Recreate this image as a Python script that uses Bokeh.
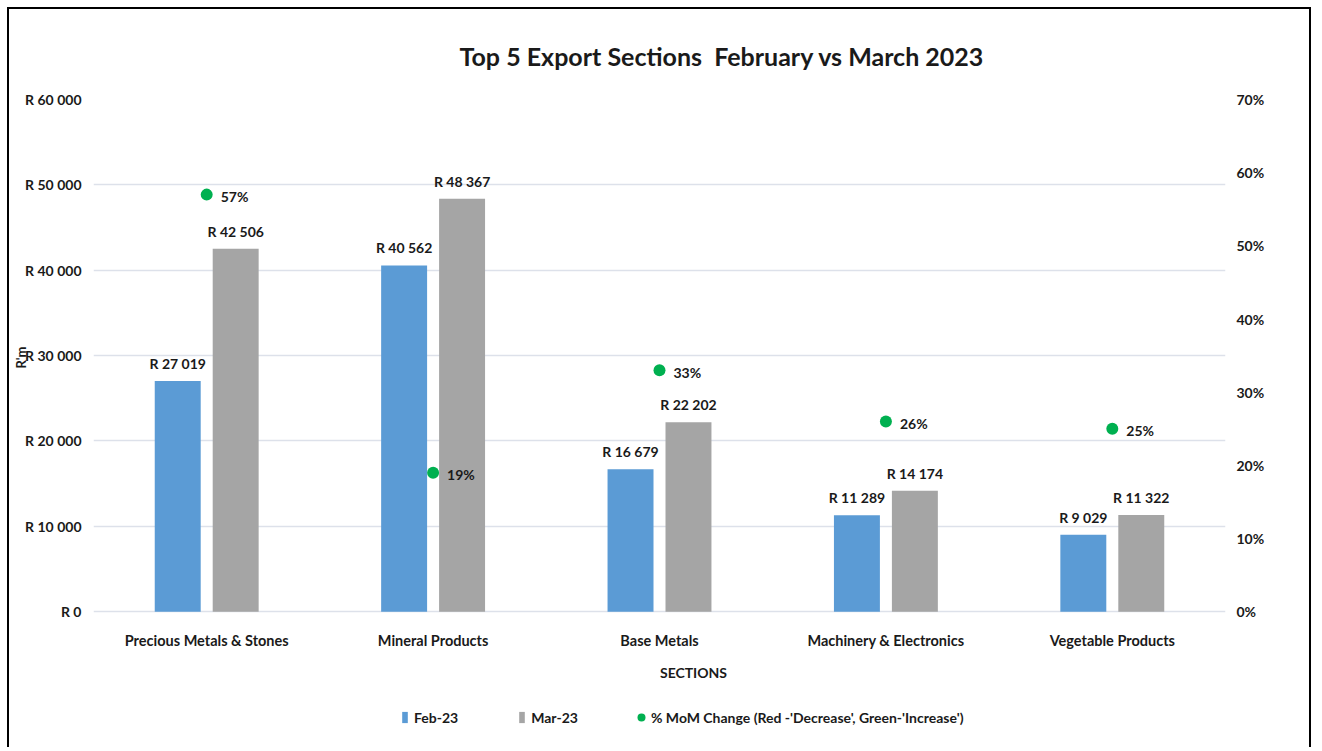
from bokeh.plotting import figure
from bokeh.models import (FactorRange, Range1d, LinearAxis, FixedTicker, Title, Label,
                          Legend, LegendItem, ColumnDataSource)
from bokeh.transform import dodge
from bokeh.core.properties import value
from bokeh.embed import file_html
from bokeh.resources import INLINE

categories = ["Precious Metals & Stones", "Mineral Products", "Base Metals",
              "Machinery & Electronics", "Vegetable Products"]
feb = [27019, 40562, 16679, 11289, 9029]
mar = [42506, 48367, 22202, 14174, 11322]
pct = [0.57, 0.19, 0.33, 0.26, 0.25]
left_ticks = [0, 10000, 20000, 30000, 40000, 50000, 60000]
left_labels = ["R 0", "R 10 000", "R 20 000", "R 30 000", "R 40 000", "R 50 000", "R 60 000"]
right_ticks = [0.0, 0.1, 0.2, 0.3, 0.4, 0.5, 0.6, 0.7]
right_labels = ["0%", "10%", "20%", "30%", "40%", "50%", "60%", "70%"]

FONT = "Lato"
TXT = "#1a1a1a"
BLUE = "#5b9bd5"
GRAY = "#a5a5a5"
GREEN = "#00b050"
GRID = "#dde1ea"

# layout: plot area (value axis part) is 513 px tall; the frame extends 136 px
# below the zero line to hold category labels, axis title and legend
BELOW = 136 / 513


def rand(v):
    return "R " + f"{v:,}".replace(",", " ")


src = ColumnDataSource(dict(
    cat=categories, feb=feb, mar=mar, pct=pct,
    feb_lbl=[rand(v) for v in feb], mar_lbl=[rand(v) for v in mar],
    pct_lbl=[f"{round(v*100)}%" for v in pct],
))

p = figure(width=1304, height=740, x_range=FactorRange(*categories, range_padding=0),
           y_range=Range1d(-60000 * BELOW, 60000), output_backend="svg", toolbar_location=None,
           x_axis_location=None,
           min_border_left=84, min_border_right=88, min_border_top=89, min_border_bottom=2)
p.extra_y_ranges = {"pct": Range1d(-0.7 * BELOW, 0.7)}
p.styles = {"margin": "7px 0px 0px 7px", "border-left": "2px solid black",
            "border-top": "2px solid black", "border-right": "2px solid black"}
p.outline_line_color = None
p.xgrid.grid_line_color = None
p.ygrid.grid_line_color = GRID
p.ygrid.grid_line_width = 1.5
p.ygrid.ticker = FixedTicker(ticks=left_ticks)

bf = p.vbar(x=dodge("cat", -0.128, range=p.x_range), top="feb", width=0.203, source=src,
            fill_color=BLUE, line_color=None)
bm = p.vbar(x=dodge("cat", 0.128, range=p.x_range), top="mar", width=0.203, source=src,
            fill_color=GRAY, line_color=None)
dots = p.scatter(x="cat", y="pct", y_range_name="pct", source=src, size=12,
                 fill_color=GREEN, line_color=None)

lbl_kw = dict(text_font=value(FONT), text_font_style="bold", text_font_size="14px", text_color=TXT)
p.text(x=dodge("cat", -0.128, range=p.x_range), y="feb", text="feb_lbl", source=src,
       text_align="center", text_baseline="bottom", y_offset=-9, **lbl_kw)
p.text(x=dodge("cat", 0.128, range=p.x_range), y="mar", text="mar_lbl", source=src,
       text_align="center", text_baseline="bottom", y_offset=-9, **lbl_kw)
p.text(x="cat", y="pct", y_range_name="pct", text="pct_lbl", source=src,
       text_align="left", text_baseline="middle", x_offset=14, y_offset=2, **lbl_kw)
# category axis labels, placed under the zero line
p.text(x="cat", y=0, text="cat", source=src, text_align="center", text_baseline="middle",
       y_offset=29, text_font=value(FONT), text_font_style="bold", text_font_size="14.5px",
       text_color=TXT)


def style_axis(ax, size="14px"):
    ax.axis_line_color = None
    ax.major_tick_line_color = None
    ax.minor_tick_line_color = None
    ax.major_label_text_font = FONT
    ax.major_label_text_font_style = "bold"
    ax.major_label_text_font_size = size
    ax.major_label_text_color = TXT


ya = p.yaxis[0]
ya.ticker = FixedTicker(ticks=left_ticks)
ya.major_label_overrides = dict(zip(left_ticks, left_labels))
style_axis(ya)
ya.major_label_standoff = 6

ra = LinearAxis(y_range_name="pct", ticker=FixedTicker(ticks=right_ticks))
ra.major_label_overrides = dict(zip(right_ticks, right_labels))
style_axis(ra)
ra.major_label_standoff = 5
p.add_layout(ra, "right")

p.title = Title(text="Top 5 Export Sections \u00a0February vs March 2023", align="left",
                offset=366, standoff=58, text_font=FONT, text_font_style="bold",
                text_font_size="25px", text_color=TXT)

p.add_layout(Title(text="R'm", align="left", offset=379, standoff=-12, text_font=FONT,
                   text_font_style="bold", text_font_size="13px", text_color=TXT), "left")

p.add_layout(Label(x=600, y=75, x_units="screen", y_units="screen", text="SECTIONS",
                   text_align="center", text_baseline="middle", text_font=FONT,
                   text_font_style="bold", text_font_size="14px", text_color=TXT))

leg_kw = dict(orientation="horizontal", label_standoff=6, spacing=60, padding=0, margin=0,
              border_line_color=None, background_fill_alpha=0, label_text_font=FONT,
              label_text_font_style="bold", label_text_font_size="14px",
              label_text_color=TXT, label_height=20)
legend1 = Legend(items=[LegendItem(label="Feb-23", renderers=[bf]),
                        LegendItem(label="Mar-23", renderers=[bm])],
                 location=(308, 20), glyph_width=7, glyph_height=14, **leg_kw)
legend2 = Legend(items=[LegendItem(label="% MoM Change (Red -'Decrease', Green-'Increase')",
                                   renderers=[dots])],
                 location=(538, 20), glyph_width=20, glyph_height=20, **leg_kw)
legend2.label_standoff = 0
p.add_layout(legend1, "center")
p.add_layout(legend2, "center")

open("out.html", "w").write(file_html(p, INLINE))
